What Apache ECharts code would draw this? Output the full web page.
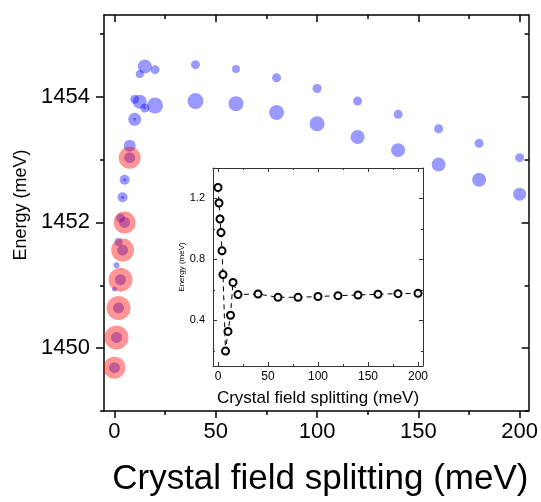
<!DOCTYPE html>
<html>
<head>
<meta charset="utf-8">
<script src="https://cdn.jsdelivr.net/npm/echarts@6/dist/echarts.min.js"></script>
<style>html,body{margin:0;padding:0;background:#fff;}#c{width:541px;height:502px;}</style>
</head>
<body>
<div id="c"></div>
<script>
// ---- Main panel data: blue levels (x, energy, marker diameter) ----
const blueX = [0, 1, 2, 3, 4, 5, 7.5, 10, 10, 12.5, 12.5, 15, 15, 20, 20, 40, 40, 60, 60, 80, 80, 100, 100, 120, 120, 140, 140, 160, 160, 180, 180, 200, 200,
               0, 1, 2, 3, 4, 5, 7.5, 4, 5, 10, 15];
const blueY = [1450.94, 1451.32, 1451.69, 1452.07, 1452.40, 1452.68, 1453.22, 1453.64, 1453.96, 1453.92, 1454.36, 1453.82, 1454.48, 1453.86, 1454.43, 1453.93, 1454.51, 1453.89, 1454.44, 1453.75, 1454.30, 1453.57, 1454.13, 1453.36, 1453.93, 1453.15, 1453.72, 1452.92, 1453.49, 1452.68, 1453.26, 1452.45, 1453.03,
               1449.69, 1450.17, 1450.64, 1451.09, 1451.56, 1452.00, 1453.03, 1452.40, 1452.68, 1453.64, 1453.82];
const blueSize = [5, 6, 8, 9, 10, 10, 12, 13, 9, 14, 8, 9, 14, 16, 9, 16, 9, 15, 8, 15, 9, 15, 9, 14, 9, 14, 9, 14, 9, 14, 9, 13, 9,
                  11, 11, 11, 11, 11, 11, 11, 3, 3, 3, 3];
// ---- Main panel data: red levels ----
const redX = [0, 1, 2, 3, 4, 5, 7.5];
const redY = [1449.69, 1450.17, 1450.64, 1451.09, 1451.56, 1452.00, 1453.03];
const redSize = [22, 24, 24, 24, 23, 22, 22];
// ---- Inset data ----
const insetX = [0, 1, 2, 3, 4, 5, 7.5, 10, 12.5, 15, 20, 40, 60, 80, 100, 120, 140, 160, 180, 200];
const insetY = [1.272, 1.17, 1.065, 0.976, 0.856, 0.70, 0.198, 0.327, 0.433, 0.649, 0.569, 0.573, 0.551, 0.551, 0.556, 0.562, 0.566, 0.571, 0.575, 0.577];
// ---- Tick values ----
const mainXTicks = [0, 50, 100, 150, 200];
const mainXMinor = [25, 75, 125, 175];
const mainYTicks = [1450, 1452, 1454];
const mainYMinor = [1449, 1451, 1453, 1455];
const insetXTicks = [0, 50, 100, 150, 200];
const insetXMinor = [25, 75, 125, 175];
const insetYTicks = [0.4, 0.8, 1.2];
const insetYMinor = [0.2, 0.6, 1.0];

const FONT = 'Liberation Sans, Arial, sans-serif';
const MX = [-5.17, 204.43], MY = [1449.0, 1455.3];
const IX = [-5, 205], IY = [0.1, 1.4];

function ax(o) {
  const base = {
    type: 'value', splitLine: {show: false},
    axisLine: {show: o.line !== false, onZero: false, lineStyle: {color: o.lc || '#000', width: o.lw || 1.5}},
    axisTick: {show: true, inside: !!o.inside, length: o.tl, customValues: o.ticks, lineStyle: {color: o.lc || '#000', width: o.lw || 1.5}},
    axisLabel: o.labels ? {show: true, customValues: o.ticks, fontSize: o.fs, color: '#000', margin: o.margin, fontFamily: FONT,
                           formatter: v => String(v)} : {show: false}
  };
  return Object.assign(base, o.extra);
}

const blueData = blueX.map((x, i) => [x, blueY[i], blueSize[i]]);
const redData = redX.map((x, i) => [x, redY[i], redSize[i]]);
const insetData = insetX.map((x, i) => [x, insetY[i]]);

const option = {
  animation: false,
  backgroundColor: '#fff',
  grid: [
    {left: 104, top: 15, width: 426, height: 401, show: false},
    {left: 213, top: 168, width: 210, height: 198, show: true, backgroundColor: '#fff', borderWidth: 0}
  ],
  xAxis: [
    ax({ticks: mainXTicks, tl: 7, labels: true, fs: 22, margin: 10, extra: {gridIndex: 0, position: 'bottom', min: MX[0], max: MX[1],
      name: 'Crystal field splitting (meV)', nameLocation: 'middle', nameGap: 51, nameTextStyle: {fontSize: 35, color: '#000', fontFamily: FONT, padding: [0, 0, 0, 8]}}}),
    ax({ticks: mainXMinor, tl: 4, line: false, extra: {gridIndex: 0, position: 'bottom', min: MX[0], max: MX[1]}}),
    ax({ticks: mainXTicks, tl: 7, inside: true, extra: {gridIndex: 0, position: 'top', min: MX[0], max: MX[1]}}),
    ax({ticks: mainXMinor, tl: 4, inside: true, line: false, extra: {gridIndex: 0, position: 'top', min: MX[0], max: MX[1]}}),
    ax({ticks: insetXTicks, tl: 4, inside: true, labels: true, fs: 12, margin: 5, lc: '#333', lw: 1, extra: {gridIndex: 1, position: 'bottom', min: IX[0], max: IX[1],
      name: 'Crystal field splitting (meV)', nameLocation: 'middle', nameGap: 24, nameTextStyle: {fontSize: 17, color: '#000', fontFamily: FONT}}}),
    ax({ticks: insetXMinor, tl: 2, inside: true, line: false, lc: '#333', lw: 1, extra: {gridIndex: 1, position: 'bottom', min: IX[0], max: IX[1]}}),
    ax({ticks: insetXTicks, tl: 4, inside: true, lc: '#333', lw: 1, extra: {gridIndex: 1, position: 'top', min: IX[0], max: IX[1]}}),
    ax({ticks: insetXMinor, tl: 2, inside: true, line: false, lc: '#333', lw: 1, extra: {gridIndex: 1, position: 'top', min: IX[0], max: IX[1]}})
  ],
  yAxis: [
    ax({ticks: mainYTicks, tl: 8, labels: true, fs: 22, margin: 14, extra: {gridIndex: 0, position: 'left', min: MY[0], max: MY[1],
      name: 'Energy (meV)', nameLocation: 'middle', nameGap: 61, nameTextStyle: {fontSize: 18, color: '#000', fontFamily: FONT, padding: [0, 0, 0, 16]}}}),
    ax({ticks: mainYMinor, tl: 4, line: false, extra: {gridIndex: 0, position: 'left', min: MY[0], max: MY[1]}}),
    ax({ticks: mainYTicks, tl: 7, inside: true, extra: {gridIndex: 0, position: 'right', min: MY[0], max: MY[1]}}),
    ax({ticks: mainYMinor, tl: 4, inside: true, line: false, extra: {gridIndex: 0, position: 'right', min: MY[0], max: MY[1]}}),
    ax({ticks: insetYTicks, tl: 4, inside: true, labels: true, fs: 11, margin: 8, lc: '#333', lw: 1, extra: {gridIndex: 1, position: 'left', min: IY[0], max: IY[1],
      name: 'Energy (meV)', nameLocation: 'middle', nameGap: 22, nameTextStyle: {fontSize: 8, color: '#000', fontFamily: FONT}}}),
    ax({ticks: insetYMinor, tl: 2, inside: true, line: false, lc: '#333', lw: 1, extra: {gridIndex: 1, position: 'left', min: IY[0], max: IY[1]}}),
    ax({ticks: insetYTicks, tl: 4, inside: true, lc: '#333', lw: 1, extra: {gridIndex: 1, position: 'right', min: IY[0], max: IY[1]}}),
    ax({ticks: insetYMinor, tl: 2, inside: true, line: false, lc: '#333', lw: 1, extra: {gridIndex: 1, position: 'right', min: IY[0], max: IY[1]}})
  ],
  series: [
    {type: 'scatter', xAxisIndex: 0, yAxisIndex: 0, data: blueData, symbol: 'circle',
     symbolSize: d => d[2], itemStyle: {color: 'rgba(0,0,255,0.5)'}, z: 2},
    {type: 'scatter', xAxisIndex: 0, yAxisIndex: 0, data: redData, symbol: 'circle',
     symbolSize: d => d[2], itemStyle: {color: 'rgba(255,0,0,0.52)'}, z: 3},
    {type: 'line', xAxisIndex: 4, yAxisIndex: 4, data: insetData, symbol: 'circle', symbolSize: 7,
     itemStyle: {color: '#fff', borderColor: '#000', borderWidth: 2},
     lineStyle: {color: '#000', width: 1, type: [5, 4]}, z: 5}
  ]
};
const chart = echarts.init(document.getElementById('c'), null, {renderer: 'canvas'});
chart.setOption(option);
</script>
</body>
</html>
